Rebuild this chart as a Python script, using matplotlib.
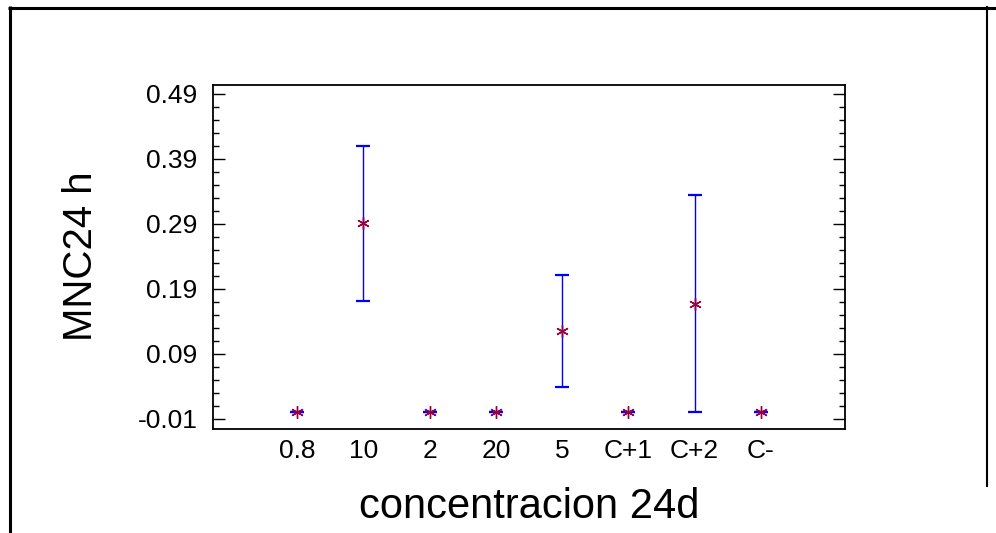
import matplotlib
matplotlib.use("Agg")
import matplotlib.pyplot as plt
from matplotlib.lines import Line2D
from matplotlib.ticker import FixedLocator, FixedFormatter

plt.rcParams['font.family'] = ['Liberation Sans', 'DejaVu Sans']

categories = ["0.8", "10", "2", "20", "5", "C+1", "C+2", "C-"]
means = [0.0, 0.291, 0.0, 0.0, 0.125, 0.0, 0.167, 0.0]
errors = [0.0, 0.119, 0.0, 0.0, 0.086, 0.0, 0.167, 0.0]
y_ticks = [-0.01, 0.09, 0.19, 0.29, 0.39, 0.49]
y_tick_labels = ["-0.01", "0.09", "0.19", "0.29", "0.39", "0.49"]

W, H = 996, 533
fig = plt.figure(figsize=(W / 100, H / 100), dpi=100)

# outer frame
fig.add_artist(Line2D([8 / W, 1.0], [1 - 7.5 / H] * 2, transform=fig.transFigure,
                      color='black', lw=2.2, solid_capstyle='butt'))
fig.add_artist(Line2D([10 / W] * 2, [1 - 6 / H, 0.0], transform=fig.transFigure,
                      color='black', lw=2.2, solid_capstyle='butt'))
fig.add_artist(Line2D([987 / W] * 2, [1 - 6 / H, 1 - 487 / H], transform=fig.transFigure,
                      color='black', lw=1.5, solid_capstyle='butt'))

ax = fig.add_axes([213 / W, 1 - 429 / H, 632 / W, 344 / H])
x = list(range(len(categories)))

eb = ax.errorbar(x, means, yerr=errors, fmt='none', ecolor='#0000ff',
                 elinewidth=1.0, capsize=5, capthick=1.6, zorder=2)
for cl in eb[1]:
    cl.set_color('#4d4dff')
ax.plot(x, means, linestyle='none', marker=(6, 2, 0), markersize=9,
        markeredgecolor='#990040', markeredgewidth=1.0, zorder=3)

ax.set_xlim(-1.27, 8.27)
ax.set_ylim(-0.0254, 0.5038)

ax.yaxis.set_major_locator(FixedLocator(y_ticks))
ax.yaxis.set_major_formatter(FixedFormatter(y_tick_labels))
ax.yaxis.set_minor_locator(FixedLocator([v / 100 for v in range(-1, 50, 2)]))
ax.set_xticks(x)
ax.set_xticklabels(categories)

ax.tick_params(axis='y', which='major', direction='in', length=8.6, width=1.0,
               left=True, right=True, labelsize=19, pad=11)
ax.tick_params(axis='y', which='minor', direction='in', length=4.3, width=1.0,
               left=True, right=True)
ax.tick_params(axis='x', which='both', length=0, labelsize=19, pad=7.5)
for s in ax.spines.values():
    s.set_linewidth(1.3)

fig.text(529 / W, 1 - 518 / H, "concentracion 24d", ha='center', va='baseline',
         fontsize=30)
fig.text(81 / W, 1 - 256 / H, "MNC24 h", ha='center', va='center',
         rotation=90, fontsize=29)

fig.savefig("out.png", dpi=100)
